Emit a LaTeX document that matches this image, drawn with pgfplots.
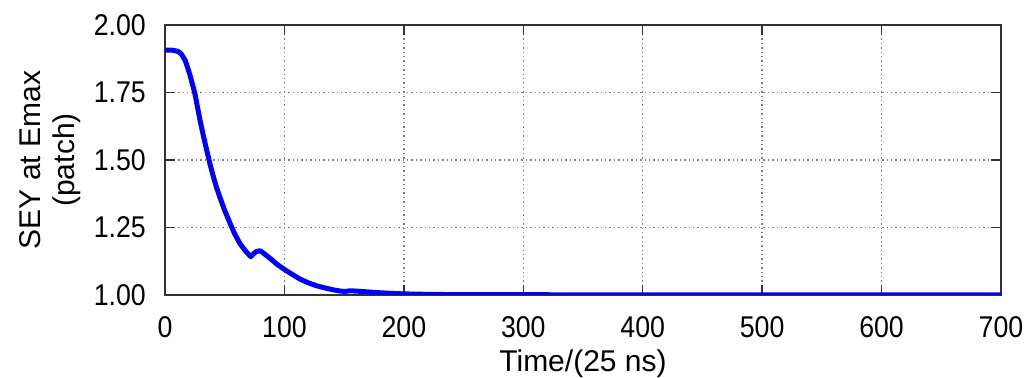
\documentclass[border=0pt]{standalone}
\usepackage{pgfplots}
\pgfplotsset{compat=1.18}
\usepackage{fontspec}
\setmainfont{Liberation Sans}
\newfontfamily\tickfont{Liberation Sans}[FakeStretch=0.89]
\definecolor{axisgray}{RGB}{50,50,50}
\begin{document}
\fontsize{13.3}{15.5}\selectfont
\begin{tikzpicture}
\begin{axis}[
  scale only axis,
  width=418pt, height=135pt,
  anchor=south west, at={(0,0)},
  xmin=0, xmax=700, ymin=1, ymax=2,
  xtick={0,100,...,700},
  ytick={1,1.25,1.5,1.75,2},
  yticklabel style={/pgf/number format/fixed,/pgf/number format/fixed zerofill,/pgf/number format/precision=2},
  /pgf/number format/assume math mode=true,
  tick align=inside,
  major tick length=5pt,
  tick style={axisgray, line width=0.7pt},
  axis line style={axisgray, line width=0.8pt},
  grid=major,
  major grid style={gray, dash pattern=on 0.7pt off 1.5pt, line width=0.7pt},
  xticklabel style={yshift=-6pt},
  yticklabel style={xshift=-5pt},
  xlabel={Time/(25 ns)},
  ylabel={SEY at Emax\\(patch)},
  xlabel style={at={(axis description cs:0.5,0)}, anchor=base, yshift=-38.5pt},
  ylabel style={at={(axis description cs:-0.137,0.5)}, anchor=center, align=center},
  every tick label/.append style={font=\tickfont\fontsize{15}{17}\selectfont},
  label style={font=\fontsize{15}{17}\selectfont},
]
\addplot[blue, line width=2.5pt, line join=round] coordinates {
(0,1.907) (5,1.907) (8,1.905) (11,1.902) (13.5,1.893) (16.8,1.870) (18.5,1.848)
(20.9,1.815) (23,1.780) (25.1,1.745) (27,1.700) (29.3,1.648) (32,1.592)
(34.9,1.537) (37.5,1.488) (40.5,1.438) (43,1.400) (46.1,1.360) (50,1.313)
(54.4,1.266) (58.5,1.225) (62.8,1.190) (67,1.165) (71.8,1.142)
(74,1.152) (76.5,1.161) (79.6,1.164) (83,1.153) (87.9,1.136) (94,1.113)
(100.5,1.093) (107,1.075) (113,1.059) (120,1.045) (127,1.034) (134,1.026)
(141,1.019) (146,1.015) (150.8,1.013) (154,1.015) (157.7,1.015) (165,1.013)
(177,1.009) (189,1.006) (201,1.004) (225,1.002) (250,1.0015) (300,1.001)
(400,1.0006) (500,1.0004) (700,1.0003)
};
\end{axis}
\pgfresetboundingbox
\path (-82.5pt,-41.5pt) rectangle (433pt,147.5pt);
\end{tikzpicture}
\end{document}
